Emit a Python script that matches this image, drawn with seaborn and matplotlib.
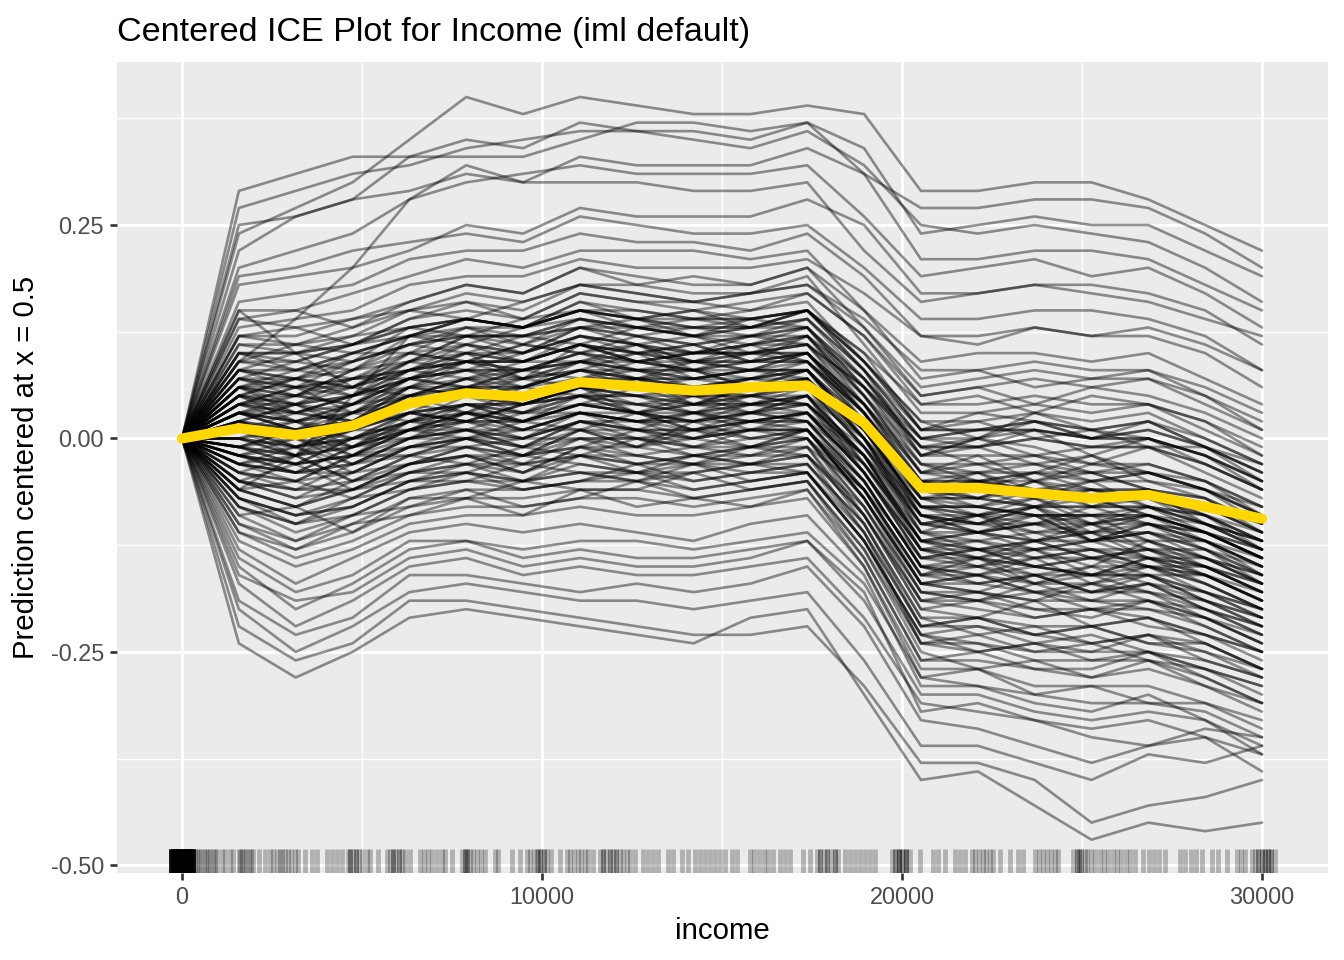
import matplotlib
matplotlib.use('Agg')
import matplotlib.pyplot as plt
import seaborn as sb
import numpy as np
import pandas as pd


# grid of income values used by the centered ICE curves (iml default, 20 points)
grid_income = [0, 1579, 3158, 4737, 6316, 7895, 9474, 11053, 12632, 14211,
               15789, 17368, 18947, 20526, 22105, 23684, 25263, 26842, 28421, 30000]

# average (PDP) curve, centered at the first grid point
pdp_pred = [0.000, 0.012, 0.004, 0.015, 0.041, 0.053, 0.049, 0.066, 0.061, 0.056,
            0.060, 0.062, 0.018, -0.058, -0.058, -0.064, -0.070, -0.066, -0.080, -0.094]

# individual curves, values in hundredths
ice_top = [
    [0, 24, 27, 30, 35, 40, 38, 40, 39, 38, 38, 39, 38, 29, 29, 30, 30, 28, 25, 22],
    [0, 29, 31, 33, 33, 33, 33, 35, 37, 37, 36, 37, 31, 27, 27, 28, 28, 27, 24, 20],
    [0, 27, 29, 31, 32, 34, 35, 36, 36, 36, 35, 37, 34, 24, 25, 26, 25, 25, 22, 19],
    [0, 22, 26, 28, 33, 35, 34, 37, 36, 35, 34, 36, 32, 25, 24, 25, 24, 23, 20, 16],
    [0, 25, 26, 28, 29, 31, 30, 33, 32, 32, 32, 34, 31, 21, 21, 22, 22, 21, 18, 15],
    [0, 20, 22, 24, 28, 30, 31, 32, 31, 31, 31, 32, 26, 19, 20, 21, 19, 20, 17, 13],
    [0, 9, 14, 20, 28, 32, 30, 30, 30, 29, 29, 30, 22, 16, 17, 18, 18, 17, 15, 11],
    [0, 18, 19, 20, 22, 25, 24, 27, 26, 26, 26, 28, 25, 17, 17, 18, 17, 16, 14, 12],
]

ice_upper = [
    [0, 19, 20, 22, 23, 24, 23, 26, 25, 24, 24, 25, 20, 14, 14, 15, 15, 14, 12, 8],
    [0, 16, 17, 18, 21, 22, 22, 24, 23, 23, 22, 24, 19, 12, 12, 13, 12, 12, 10, 6],
    [0, 15, 15, 17, 19, 21, 20, 22, 22, 22, 21, 22, 15, 9, 10, 10, 9, 10, 7, 4],
    [0, 13, 14, 15, 18, 19, 19, 21, 20, 20, 20, 21, 17, 12, 11, 13, 12, 13, 11, 8],
    [0, 12, 12, 14, 16, 18, 17, 20, 19, 18, 18, 20, 13, 6, 7, 8, 7, 7, 5, 1],
    [0, 14, 13, 14, 15, 16, 15, 18, 17, 16, 17, 18, 14, 8, 8, 9, 8, 8, 6, 3],
    [0, 11, 11, 13, 15, 17, 16, 18, 18, 17, 17, 19, 11, 3, 3, 4, 3, 4, 1, -2],
    [0, 10, 10, 11, 14, 15, 14, 17, 16, 16, 15, 17, 12, 5, 6, 7, 6, 7, 4, 1],
    [0, 9, 9, 11, 13, 14, 13, 16, 15, 14, 15, 16, 9, 2, 2, 3, 2, 3, 0, -3],
    [0, 8, 8, 10, 12, 13, 13, 15, 14, 14, 14, 15, 10, 4, 4, 5, 4, 4, 2, -1],
    [0, 12, 11, 12, 13, 14, 13, 15, 15, 14, 14, 15, 8, 0, 0, 1, 0, 0, -2, -5],
    [0, 7, 7, 9, 11, 12, 12, 14, 13, 13, 13, 14, 7, 0, 1, 2, 0, 1, -1, -5],
    [0, 5, 5, 8, 12, 14, 13, 15, 14, 13, 14, 15, 9, 1, 1, 2, 1, 2, 0, -3],
    [0, 10, 10, 11, 12, 12, 12, 13, 13, 12, 12, 13, 6, -1, -1, 0, -1, -1, -3, -6],
]

ice_core = [
    [0, 7, 6, 7, 10, 11, 10, 13, 12, 11, 12, 13, 5, -2, -2, -2, -3, -3, -5, -8],
    [0, 6, 5, 6, 9, 10, 10, 12, 11, 10, 11, 11, 6, -1, -1, 0, -1, -1, -3, -6],
    [0, 5, 4, 5, 8, 9, 9, 11, 10, 9, 10, 10, 4, -4, -4, -4, -5, -4, -6, -9],
    [0, 4, 4, 5, 7, 9, 8, 10, 9, 9, 9, 10, 3, -5, -5, -5, -6, -6, -8, -11],
    [0, 4, 3, 4, 7, 8, 8, 9, 9, 8, 9, 9, 2, -6, -6, -7, -7, -7, -9, -12],
    [0, 3, 2, 3, 6, 7, 7, 9, 8, 8, 8, 9, 4, -3, -3, -3, -4, -4, -6, -8],
    [0, 3, 2, 3, 5, 7, 6, 8, 8, 7, 8, 8, 1, -7, -7, -8, -8, -8, -10, -13],
    [0, 2, 1, 2, 5, 6, 6, 8, 7, 7, 7, 8, 2, -6, -5, -6, -7, -6, -8, -11],
    [0, 2, 1, 2, 4, 5, 5, 7, 6, 6, 6, 7, 0, -8, -8, -9, -9, -9, -11, -14],
    [0, 1, 0, 1, 4, 5, 4, 6, 6, 5, 6, 6, 1, -5, -5, -6, -6, -6, -8, -10],
    [0, 1, 0, 1, 3, 4, 4, 6, 5, 5, 5, 6, -1, -9, -9, -10, -10, -10, -12, -15],
    [0, 0, -1, 0, 3, 4, 3, 5, 5, 4, 5, 5, 0, -7, -7, -8, -8, -8, -10, -13],
    [0, 0, -1, 0, 2, 3, 3, 5, 4, 4, 4, 5, -2, -10, -10, -11, -11, -11, -13, -16],
    [0, -1, -2, -1, 2, 3, 2, 4, 4, 3, 4, 4, -1, -8, -8, -9, -9, -9, -11, -14],
    [0, -1, -2, -1, 1, 2, 2, 4, 3, 3, 3, 4, -3, -11, -11, -12, -12, -12, -14, -17],
    [0, -2, -3, -2, 1, 2, 1, 3, 3, 2, 3, 3, -2, -9, -10, -10, -11, -10, -12, -15],
    [0, -2, -3, -2, 0, 1, 1, 3, 2, 2, 2, 3, -4, -13, -13, -14, -14, -14, -16, -19],
    [0, -3, -4, -3, 0, 1, 0, 2, 2, 1, 2, 2, -3, -12, -12, -13, -13, -13, -15, -18],
    [0, -3, -4, -3, -1, 0, 0, 2, 1, 1, 1, 2, -5, -15, -15, -16, -16, -16, -18, -21],
    [0, -4, -5, -4, -1, 0, -1, 1, 1, 0, 1, 1, -6, -14, -14, -15, -16, -15, -17, -20],
    [0, 8, 7, 8, 11, 12, 12, 14, 13, 12, 13, 14, 8, 1, 1, 1, 0, 1, -1, -4],
    [0, 6, 6, 7, 8, 9, 9, 11, 10, 10, 10, 11, 6, 0, 1, 1, 0, 0, -2, -5],
]

ice_mixed = [
    [0, 6, 3, 5, 9, 8, 10, 12, 10, 11, 9, 12, 4, -6, -4, -7, -5, -8, -9, -13],
    [0, 3, 5, 4, 6, 9, 7, 8, 10, 7, 8, 10, 2, -9, -10, -8, -11, -9, -12, -14],
    [0, 8, 6, 9, 11, 10, 12, 11, 13, 12, 10, 12, 6, -3, -5, -4, -2, -5, -6, -10],
    [0, -1, 1, 0, 3, 2, 4, 6, 3, 5, 4, 6, -3, -12, -14, -13, -15, -12, -15, -18],
    [0, 1, -2, 2, 5, 3, 6, 5, 7, 4, 6, 7, 0, -10, -9, -11, -10, -13, -13, -17],
    [0, 4, 2, 1, 4, 6, 5, 7, 8, 6, 7, 8, 1, -8, -10, -9, -12, -11, -13, -15],
    [0, -3, -1, -4, -1, 1, -1, 2, 0, 1, 0, 1, -7, -17, -16, -18, -17, -19, -20, -22],
    [0, -2, -4, -1, 1, 0, 2, 1, 3, 1, 2, 3, -5, -15, -17, -16, -18, -16, -19, -21],
    [0, 2, 0, 3, 2, 5, 4, 6, 5, 6, 4, 5, -2, -13, -12, -14, -13, -15, -16, -19],
    [0, 5, 7, 6, 8, 11, 9, 12, 11, 9, 11, 12, 7, -1, -3, -2, -4, -3, -5, -9],
    [0, 10, 8, 9, 13, 12, 14, 15, 13, 14, 13, 15, 9, 2, 0, 2, 1, -1, -1, -4],
    [0, 12, 13, 11, 14, 16, 14, 17, 16, 15, 16, 17, 12, 4, 5, 3, 5, 4, 2, -2],
    [0, -4, -6, -3, -2, -3, -1, -2, 0, -2, -1, 0, -8, -19, -18, -20, -21, -19, -22, -25],
    [0, -6, -5, -7, -4, -2, -4, -1, -3, -2, -3, -1, -10, -21, -23, -22, -24, -23, -24, -27],
    [0, -8, -10, -7, -6, -4, -6, -5, -3, -5, -4, -3, -11, -24, -23, -25, -24, -26, -27, -29],
    [0, -9, -8, -11, -7, -7, -5, -6, -6, -4, -6, -5, -13, -25, -27, -26, -28, -26, -29, -31],
    [0, -11, -13, -10, -9, -7, -9, -6, -8, -7, -8, -6, -15, -28, -27, -30, -29, -31, -31, -33],
    [0, 7, 9, 8, 10, 9, 11, 13, 12, 10, 12, 11, 3, -7, -6, -8, -6, -7, -10, -12],
    [0, 3, 1, 4, 7, 6, 8, 10, 8, 9, 8, 10, 3, -6, -8, -6, -7, -9, -10, -12],
    [0, 0, 2, -1, 2, 4, 2, 5, 3, 4, 3, 5, -4, -14, -15, -13, -16, -14, -17, -20],
    [0, -2, 0, -3, 0, 2, 0, 3, 2, 0, 2, 2, -6, -16, -14, -17, -15, -17, -18, -21],
    [0, 1, 3, 2, 4, 5, 3, 4, 6, 4, 5, 4, -2, -11, -13, -12, -11, -13, -14, -16],
    [0, 5, 4, 7, 7, 10, 9, 11, 9, 10, 10, 11, 5, -4, -3, -5, -4, -6, -7, -11],
    [0, 9, 11, 10, 12, 14, 13, 16, 14, 15, 13, 15, 10, 1, 3, 2, 0, 2, -1, -3],
    [0, -5, -3, -6, -3, -1, -3, 0, -2, -1, -2, 0, -9, -20, -19, -21, -20, -22, -23, -26],
    [0, -7, -9, -8, -5, -5, -3, -4, -5, -3, -5, -4, -12, -23, -25, -24, -23, -25, -26, -28],
    [0, 2, 4, 1, 3, 6, 5, 7, 6, 5, 7, 7, 0, -9, -11, -10, -8, -10, -11, -14],
    [0, 4, 6, 5, 8, 7, 9, 9, 11, 8, 9, 9, 3, -6, -7, -5, -8, -7, -9, -12],
    [0, -1, -3, 0, 0, 3, 1, 3, 1, 3, 1, 3, -4, -14, -13, -15, -16, -14, -16, -19],
    [0, -3, -5, -2, -2, 0, -2, 1, -1, 0, -1, 1, -7, -18, -19, -17, -19, -20, -21, -24],
    [0, 6, 8, 7, 9, 12, 10, 13, 11, 12, 11, 13, 6, -2, -1, -3, -2, -4, -5, -8],
    [0, 11, 10, 12, 15, 14, 16, 18, 17, 16, 17, 18, 13, 5, 6, 4, 6, 5, 3, 0],
    [0, -10, -12, -9, -8, -6, -8, -7, -5, -7, -6, -5, -14, -26, -25, -27, -27, -25, -28, -31],
    [0, -4, -2, -5, -3, -1, -2, -1, 1, -1, -1, 1, -7, -17, -18, -16, -18, -17, -20, -23],
    [0, 1, -1, 1, 3, 2, 4, 5, 4, 3, 5, 4, -2, -12, -11, -13, -12, -11, -14, -17],
    [0, 3, 3, 2, 6, 5, 7, 6, 7, 8, 6, 8, 1, -8, -9, -7, -10, -9, -11, -14],
    [0, 8, 7, 10, 10, 13, 11, 14, 13, 12, 14, 13, 7, -1, 0, -2, -1, 0, -3, -6],
    [0, -6, -8, -5, -4, -4, -2, -3, -4, -2, -3, -2, -11, -22, -21, -23, -22, -24, -25, -27],
    [0, 0, -2, 1, 1, 3, 2, 4, 3, 2, 4, 3, -3, -13, -14, -12, -14, -15, -15, -18],
    [0, 14, 15, 13, 16, 18, 17, 20, 18, 19, 18, 20, 15, 7, 8, 6, 7, 8, 5, 2],
]

ice_dense = [
    [0, 5, 2, 4, 8, 10, 7, 11, 9, 10, 11, 9, 3, -5, -7, -6, -8, -6, -10, -12],
    [0, 2, 4, 3, 5, 7, 8, 7, 9, 8, 6, 8, 0, -11, -9, -12, -10, -12, -14, -16],
    [0, -1, -3, 0, 1, 4, 2, 4, 3, 1, 3, 2, -5, -15, -16, -14, -17, -15, -18, -20],
    [0, 7, 5, 8, 9, 12, 11, 10, 12, 11, 12, 12, 5, -4, -2, -5, -3, -4, -6, -9],
    [0, 4, 6, 3, 7, 6, 8, 9, 7, 9, 8, 7, 1, -9, -11, -10, -9, -12, -12, -15],
    [0, -3, -2, -5, -2, 0, -2, 1, -1, 2, 0, 1, -6, -17, -18, -19, -17, -18, -21, -23],
    [0, 1, 0, -1, 3, 4, 3, 6, 4, 5, 3, 5, -2, -12, -11, -12, -14, -13, -15, -17],
    [0, 6, 4, 6, 10, 9, 11, 10, 11, 9, 10, 11, 4, -5, -6, -4, -6, -7, -8, -11],
    [0, -5, -7, -4, -3, -2, -4, -1, -2, -3, -1, -2, -9, -20, -21, -19, -22, -21, -23, -25],
    [0, 3, 1, 2, 5, 5, 6, 8, 6, 7, 6, 7, -1, -10, -11, -9, -12, -11, -12, -15],
    [0, 9, 8, 10, 12, 11, 13, 14, 12, 13, 12, 14, 8, 0, -1, 1, -2, 0, -2, -6],
    [0, -2, -1, -3, 0, 1, -1, 2, 1, 0, 1, 0, -6, -16, -15, -17, -16, -18, -19, -22],
    [0, 0, 1, -2, 1, 3, 1, 3, 2, 3, 2, 3, -4, -13, -14, -15, -14, -13, -16, -19],
    [0, 4, 3, 5, 6, 8, 6, 9, 8, 7, 8, 8, 2, -7, -8, -7, -9, -8, -10, -13],
    [0, -6, -8, -6, -5, -3, -5, -2, -4, -3, -4, -3, -10, -22, -21, -23, -22, -24, -24, -27],
    [0, 8, 10, 9, 11, 13, 12, 13, 14, 12, 13, 13, 7, -2, 0, -1, -3, -1, -4, -7],
    [0, 2, -1, 1, 4, 3, 5, 6, 5, 4, 6, 6, -1, -11, -12, -11, -13, -14, -14, -17],
    [0, -4, -5, -2, -1, -1, 0, 0, -1, 1, -1, 0, -8, -18, -19, -18, -20, -19, -21, -24],
    [0, 5, 7, 5, 7, 9, 8, 10, 9, 8, 10, 9, 3, -6, -5, -7, -6, -8, -9, -11],
    [0, 1, 2, 0, 2, 4, 4, 5, 5, 3, 4, 5, -3, -12, -13, -12, -11, -14, -15, -17],
    [0, -7, -9, -8, -5, -4, -5, -4, -5, -4, -3, -4, -12, -23, -22, -24, -25, -23, -26, -28],
    [0, 6, 5, 7, 8, 10, 9, 11, 10, 11, 9, 10, 4, -5, -4, -6, -5, -5, -7, -10],
    [0, -1, 0, -2, 2, 2, 2, 4, 3, 2, 3, 4, -4, -14, -13, -15, -14, -16, -16, -19],
    [0, 3, 2, 4, 5, 7, 5, 7, 7, 6, 7, 6, 0, -9, -10, -8, -10, -9, -11, -14],
    [0, -3, -4, -4, -1, 0, -1, 0, 0, -1, 1, 1, -7, -17, -16, -18, -19, -17, -20, -22],
    [0, 10, 9, 11, 13, 14, 13, 15, 14, 15, 14, 15, 9, 1, 2, 0, 1, 2, -1, -4],
    [0, 0, -2, 0, 2, 1, 3, 3, 2, 2, 3, 2, -5, -15, -14, -16, -15, -15, -17, -20],
    [0, 4, 5, 4, 7, 8, 7, 9, 8, 8, 7, 9, 2, -7, -9, -8, -7, -9, -11, -13],
    [0, -2, -4, -1, 0, 0, 1, 1, 0, 0, 1, 1, -6, -16, -17, -16, -18, -17, -19, -21],
    [0, 7, 6, 6, 9, 11, 10, 12, 11, 10, 11, 12, 5, -3, -4, -3, -5, -4, -6, -9],
    [0, 1, -1, 2, 3, 2, 4, 5, 3, 4, 4, 4, -2, -12, -13, -13, -12, -14, -15, -18],
    [0, -5, -6, -6, -3, -2, -3, -2, -3, -2, -2, -1, -9, -19, -20, -21, -20, -21, -23, -25],
    [0, 3, 4, 2, 6, 5, 6, 7, 7, 6, 5, 7, 1, -8, -9, -9, -10, -8, -11, -13],
    [0, 5, 3, 5, 7, 8, 8, 9, 10, 9, 9, 10, 3, -6, -7, -5, -7, -6, -9, -12],
    [0, -1, 1, -1, 1, 3, 2, 3, 2, 3, 2, 3, -4, -13, -15, -14, -13, -15, -16, -18],
    [0, 2, 0, 3, 4, 6, 4, 6, 6, 5, 5, 6, -1, -10, -11, -10, -12, -10, -13, -16],
    [0, -8, -10, -9, -6, -5, -6, -5, -4, -6, -5, -4, -12, -24, -25, -24, -26, -25, -27, -29],
    [0, 6, 7, 6, 8, 9, 9, 11, 9, 10, 10, 10, 4, -4, -5, -4, -4, -6, -7, -10],
    [0, -2, -3, -2, 1, 1, 0, 2, 1, 1, 2, 1, -5, -15, -16, -15, -16, -16, -18, -20],
    [0, 3, 1, 3, 6, 6, 7, 8, 7, 6, 7, 8, 1, -8, -8, -9, -9, -10, -11, -14],
]

ice_lower = [
    [0, -5, -6, -5, -2, -1, -2, 0, 0, -1, 0, 0, -7, -17, -17, -18, -18, -18, -20, -23],
    [0, -5, -7, -6, -3, -2, -2, -1, -1, -2, -1, -1, -6, -16, -16, -17, -17, -16, -19, -22],
    [0, -6, -8, -6, -4, -3, -3, -2, -2, -3, -2, -2, -9, -19, -19, -20, -20, -20, -22, -25],
    [0, -7, -9, -7, -4, -3, -4, -2, -3, -3, -3, -2, -8, -18, -18, -19, -19, -19, -21, -24],
    [0, -7, -10, -8, -5, -4, -5, -3, -4, -4, -3, -3, -10, -21, -21, -22, -22, -21, -24, -27],
    [0, -8, -11, -9, -6, -5, -5, -4, -4, -5, -4, -4, -11, -22, -22, -23, -24, -23, -25, -28],
    [0, -9, -12, -10, -7, -6, -6, -5, -5, -6, -5, -4, -12, -23, -24, -25, -25, -25, -27, -30],
    [0, -10, -13, -11, -8, -7, -7, -6, -6, -7, -6, -5, -13, -24, -24, -26, -26, -26, -28, -31],
    [0, -11, -14, -12, -9, -8, -8, -7, -7, -8, -7, -6, -14, -26, -26, -27, -28, -27, -29, -32],
    [0, -12, -15, -13, -10, -9, -9, -8, -9, -9, -8, -7, -15, -27, -27, -29, -29, -29, -31, -34],
]

ice_bottom = [
    [0, -24, -28, -25, -21, -20, -21, -22, -23, -24, -21, -20, -30, -40, -39, -43, -47, -45, -46, -45],
    [0, -22, -26, -24, -19, -19, -20, -21, -22, -23, -23, -22, -29, -38, -38, -40, -45, -43, -42, -40],
    [0, -20, -25, -22, -18, -17, -18, -19, -19, -20, -19, -18, -26, -36, -36, -38, -40, -37, -38, -36],
    [0, -19, -23, -21, -16, -16, -17, -18, -17, -18, -17, -15, -22, -33, -34, -36, -38, -36, -35, -37],
    [0, -17, -22, -19, -15, -14, -16, -15, -16, -16, -15, -14, -21, -31, -32, -33, -35, -36, -34, -35],
    [0, -15, -20, -17, -13, -12, -14, -13, -14, -14, -13, -12, -19, -30, -30, -32, -33, -32, -33, -36],
    [0, -14, -18, -16, -12, -12, -13, -12, -12, -13, -12, -11, -17, -28, -29, -30, -31, -31, -32, -35],
    [0, -13, -17, -14, -11, -10, -11, -10, -11, -12, -10, -9, -16, -29, -29, -31, -32, -30, -33, -37],
    [0, -16, -19, -18, -14, -13, -15, -14, -15, -15, -14, -12, -18, -32, -31, -33, -34, -33, -35, -39],
]

ice_cross = [
    [0, -6, -2, 5, 12, 14, 13, 15, 14, 13, 13, 15, 8, -2, 0, 3, 1, 0, -2, -5],
    [0, 15, 10, 6, 5, 6, 6, 8, 7, 7, 8, 8, 0, -10, -9, -8, -12, -10, -12, -16],
]

# observed incomes for the rug (jittered positions as drawn)
rug_income = (
    [-300, -250, -200, -150, -100, -50, 0, 50, 100, 150, 200, 250, 300] * 9
    + [350, 420, 480, 540, 600, 660, 720, 780, 850, 910, 960, 1120, 1190, 1330, 1430,
       1570, 1620, 1680, 1730, 1790, 1850, 1920, 1970, 2140, 2310, 2450, 2540, 2630, 2720,
       2770, 2860, 2950, 3040, 3130, 3230, 3420, 3600, 3740, 4020, 4160, 4300, 4440,
       4600, 4680, 4760, 4840, 4920, 4990, 4680, 4840, 5130, 5220, 5450,
       5690, 5770, 5850, 5930, 6020, 6100, 6190, 5850, 6020, 6330, 6610, 6720, 6840,
       6940, 7080, 7210, 7300, 7490, 7770, 7850, 7920, 8000, 7850, 7920,
       8090, 8200, 8310, 8420, 8690, 8790, 9160, 9390, 9570, 9680, 9790, 9900,
       9850, 9950, 10050, 10150, 10250, 9950, 10050, 10500,
       10690, 10790, 10890, 10990, 11090, 11190, 11280, 11420,
       11610, 11700, 11790, 11880, 11970, 12060, 12160, 12250, 12350, 11700, 11880, 12060,
       12440, 12580, 12810, 12950, 13090, 13230, 13500, 13640, 13880, 14060, 14250,
       14390, 14530, 14670, 14810, 14950, 15080, 15270, 15410,
       15780, 15900, 16030, 16160, 16290, 16430, 16610, 16750, 16890, 17260, 17440,
       17630, 17730, 17830, 17930, 18030, 18130, 18230, 17730, 17930, 18130,
       18420, 18560, 18700, 18840, 18980, 19110, 19250,
       19710, 19810, 19910, 20010, 20110, 20220, 19810, 19910, 20010, 20110, 19910, 20110,
       20500, 20870, 21010, 21190, 21470, 21610, 21750,
       21940, 22040, 22140, 22240, 22340, 22440, 22540, 22720, 23000, 23230, 23370,
       23690, 23800, 23910, 24020, 24130, 24240, 24340,
       24760, 24870, 24980, 25080, 24870, 24980, 24920,
       25130, 25250, 25370, 25490, 25610, 25730, 25850, 25970, 26090, 26210, 26340, 26470,
       26700, 26860, 27000, 27150, 27310, 27720, 27870, 28020, 28170, 28320,
       28600, 28790, 29020, 29300, 29410, 29530,
       29720, 29810, 29900, 29990, 30080, 30170, 30260, 30360, 29900, 30080, 30260, 29990, 30170]
)

# build long table: one row per curve and grid point
groups = (ice_top + ice_upper + ice_core + ice_mixed + ice_dense
          + ice_lower + ice_bottom + ice_cross)
rows = []
for cid, curve in enumerate(groups):
    for inc, val in zip(grid_income, curve):
        rows.append((cid, inc, val / 100.0))
ice = pd.DataFrame(rows, columns=['id', 'income', 'pred'])
pdp = pd.DataFrame({'income': grid_income, 'pred': pdp_pred})

sb.set_theme(style='darkgrid', rc={
    'axes.facecolor': '#EBEBEB',
    'figure.facecolor': 'white',
    'grid.color': 'white',
    'axes.edgecolor': '#EBEBEB',
    'xtick.bottom': True, 'ytick.left': True,
    'xtick.color': '#333333', 'ytick.color': '#333333',
    'xtick.labelcolor': '#4D4D4D', 'ytick.labelcolor': '#4D4D4D',
    'xtick.major.size': 2.75, 'ytick.major.size': 2.75,
    'xtick.major.width': 1.0, 'ytick.major.width': 1.0,
    'xtick.major.pad': 2.2, 'ytick.major.pad': 2.2,
    'axes.unicode_minus': False,
})
plt.rcParams['font.family'] = ['Liberation Sans', 'DejaVu Sans']

f = plt.figure(figsize=(7, 5), dpi=192)
ax = f.add_axes([117 / 1344, 1 - 873 / 960, (1328 - 117) / 1344, (873 - 62) / 960])

sb.lineplot(data=ice, x='income', y='pred', units='id', estimator=None,
            color='black', alpha=0.42, linewidth=1.0, ax=ax)
sb.lineplot(data=pdp, x='income', y='pred', color='#FFD700', linewidth=3.8, ax=ax)
sb.rugplot(x=rug_income, height=0.03, color='black', alpha=0.25, linewidth=1.8, ax=ax)

ax.set_xlim(-1806, 31833)
ax.set_ylim(-0.509, 0.441)
ax.set_xticks([0, 10000, 20000, 30000])
ax.set_xticklabels(['0', '10000', '20000', '30000'], fontsize=8.8)
ax.set_xticks([5000, 15000, 25000], minor=True)
ax.set_yticks([-0.5, -0.25, 0.0, 0.25])
ax.set_yticklabels(['-0.50', '-0.25', '0.00', '0.25'], fontsize=8.8)
ax.set_yticks([-0.375, -0.125, 0.125, 0.375], minor=True)
ax.grid(which='major', color='white', lw=1.07)
ax.grid(which='minor', color='white', lw=0.53)
ax.tick_params(which='minor', length=0)
for s in ax.spines.values():
    s.set_visible(False)

ax.set_xlabel('income', fontsize=11, color='black', labelpad=3)
ax.set_ylabel('Prediction centered at x = 0.5', fontsize=11, color='black', labelpad=4)
ax.set_title('Centered ICE Plot for Income (iml default)', fontsize=12.8,
             color='black', loc='left', pad=8)

f.savefig('out.png', dpi=192)
